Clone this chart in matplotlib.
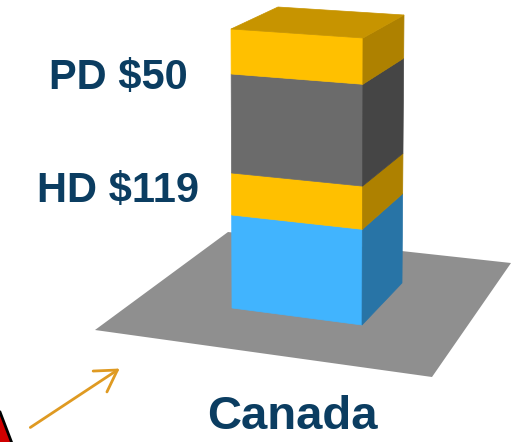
"""
Stacked price column (Canada) drawn as a pseudo-3D block on a floor plate
"""
import matplotlib.pyplot as plt
from matplotlib.patches import Polygon, FancyArrowPatch

# Segment heights, bottom to top
segments = ['HD base', 'HD add-on', 'PD base', 'PD add-on']
heights = [93, 42, 99, 45]
front_colors = ['#41B4FE', '#FFC000', '#6B6B6B', '#FFC000']
side_colors = ['#2874A6', '#AE8100', '#454545', '#AE8100']
top_color = '#C79400'

labels = ['HD $119', 'PD $50']
label_y = [191, 78]
category = 'Canada'

# Screen corners of the block (base and top): front-left, front-right, back-right, back-left
base = [(232, 308), (362, 325), (402, 283), (272, 266)]
top = [(231, 29), (363, 38), (404, 15), (278, 7)]
floor = [(95, 330), (228, 232), (511, 263), (432, 377)]

text_color = '#0B3D61'


def corner(i, t):
    """Point on vertical edge i at height fraction t."""
    bx, by = base[i]
    tx, ty = top[i]
    return (bx + t * (tx - bx), by + t * (ty - by))


fig = plt.figure(figsize=(5.13, 4.42), dpi=100)
ax = fig.add_axes([0, 0, 1, 1])
ax.set_xlim(0, 513)
ax.set_ylim(442, 0)
ax.axis('off')

# Floor plate
ax.add_patch(Polygon(floor, closed=True, facecolor='#8F8F8F', edgecolor='none'))

total = sum(heights)
cum = 0
for h, fc, sc in zip(heights, front_colors, side_colors):
    t0 = cum / total
    t1 = (cum + h) / total
    front = [corner(0, t0), corner(1, t0), corner(1, t1), corner(0, t1)]
    side = [corner(1, t0), corner(2, t0), corner(2, t1), corner(1, t1)]
    ax.add_patch(Polygon(front, closed=True, facecolor=fc, edgecolor=fc, lw=0.5))
    ax.add_patch(Polygon(side, closed=True, facecolor=sc, edgecolor=sc, lw=0.5))
    cum += h

# Lid of the block
lid = [corner(i, 1.0) for i in range(4)]
ax.add_patch(Polygon(lid, closed=True, facecolor=top_color, edgecolor=top_color, lw=0.5))

for lab, y in zip(labels, label_y):
    ax.text(118, y, lab, ha='center', va='center', fontsize=30,
            fontweight='bold', family='Liberation Sans', color=text_color)

ax.text(292, 417, category, ha='center', va='center', fontsize=34,
        fontweight='bold', family='Liberation Sans', color=text_color)

# Pointer arrow
ax.add_patch(FancyArrowPatch((28, 429), (122, 367), arrowstyle='->,head_length=10,head_width=6',
                             color='#DF9A22', lw=2, mutation_scale=1.5))

# Red marker in the corner
ax.add_patch(Polygon([(-5, 412), (0, 412), (13, 446), (-5, 446)], closed=True,
                     facecolor='#D00000', edgecolor='black', lw=2))

fig.savefig('out.png', dpi=100)
